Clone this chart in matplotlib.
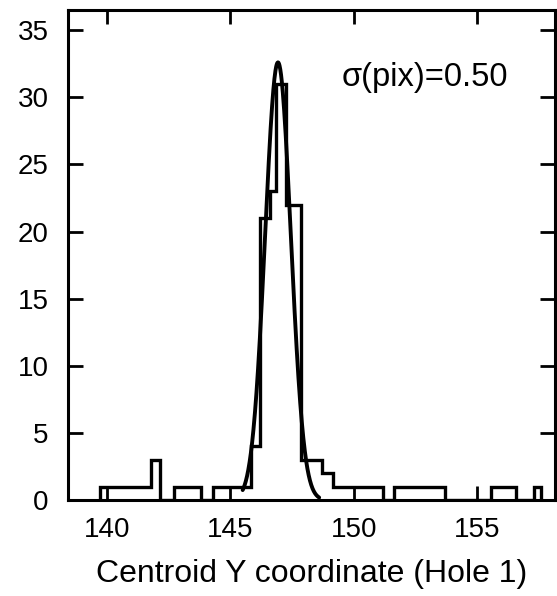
import numpy as np
import matplotlib
matplotlib.use("Agg")
import matplotlib.pyplot as plt

# ---- data ----
bin_edges = [139.72, 141.80, 142.15, 142.73, 143.82, 144.31, 145.83, 146.20,
             146.59, 146.83, 147.25, 147.86, 148.71, 149.15, 151.19, 151.64,
             153.72, 155.56, 156.58, 157.30, 157.60]
bin_counts = [1, 3, 0, 1, 0, 1, 4, 21, 23, 31, 22, 3, 2, 1, 0, 1, 0, 1, 0, 1]

# Gaussian fit parameters
fit_amp = 32.6
fit_mean = 146.93
fit_sigma = 0.52
fit_range = (145.5, 148.6)

x_ticks = [140, 145, 150, 155]
y_ticks = [0, 5, 10, 15, 20, 25, 30, 35]
x_label = "Centroid Y coordinate (Hole 1)"
annotation = "σ(pix)=0.50"

plt.rcParams['font.family'] = ['Liberation Sans', 'DejaVu Sans']

fig = plt.figure(figsize=(5.57, 5.96), dpi=100)
ax = fig.add_axes([0.1226, 0.161, 0.8738, 0.8222])

ax.stairs(bin_counts, bin_edges, baseline=0, color='black', linewidth=2.4)

xf = np.linspace(fit_range[0], fit_range[1], 300)
yf = fit_amp * np.exp(-0.5 * ((xf - fit_mean) / fit_sigma) ** 2)
ax.plot(xf, yf, color='black', linewidth=2.8, solid_capstyle='round')

ax.set_xlim(138.43, 158.16)
ax.set_ylim(0, 36.5)
ax.set_xticks(x_ticks)
ax.set_yticks(y_ticks)
ax.tick_params(axis='both', which='major', direction='in', length=10, width=2,
               labelsize=20, pad=12, top=True, right=True)
ax.tick_params(axis='y', length=11, pad=14)
for s in ax.spines.values():
    s.set_linewidth(2.2)

ax.set_xlabel(x_label, fontsize=23, labelpad=12)
ax.text(0.562, 0.863, annotation, transform=ax.transAxes, fontsize=23.5,
        ha='left', va='center')

fig.savefig("out.png", dpi=100)
